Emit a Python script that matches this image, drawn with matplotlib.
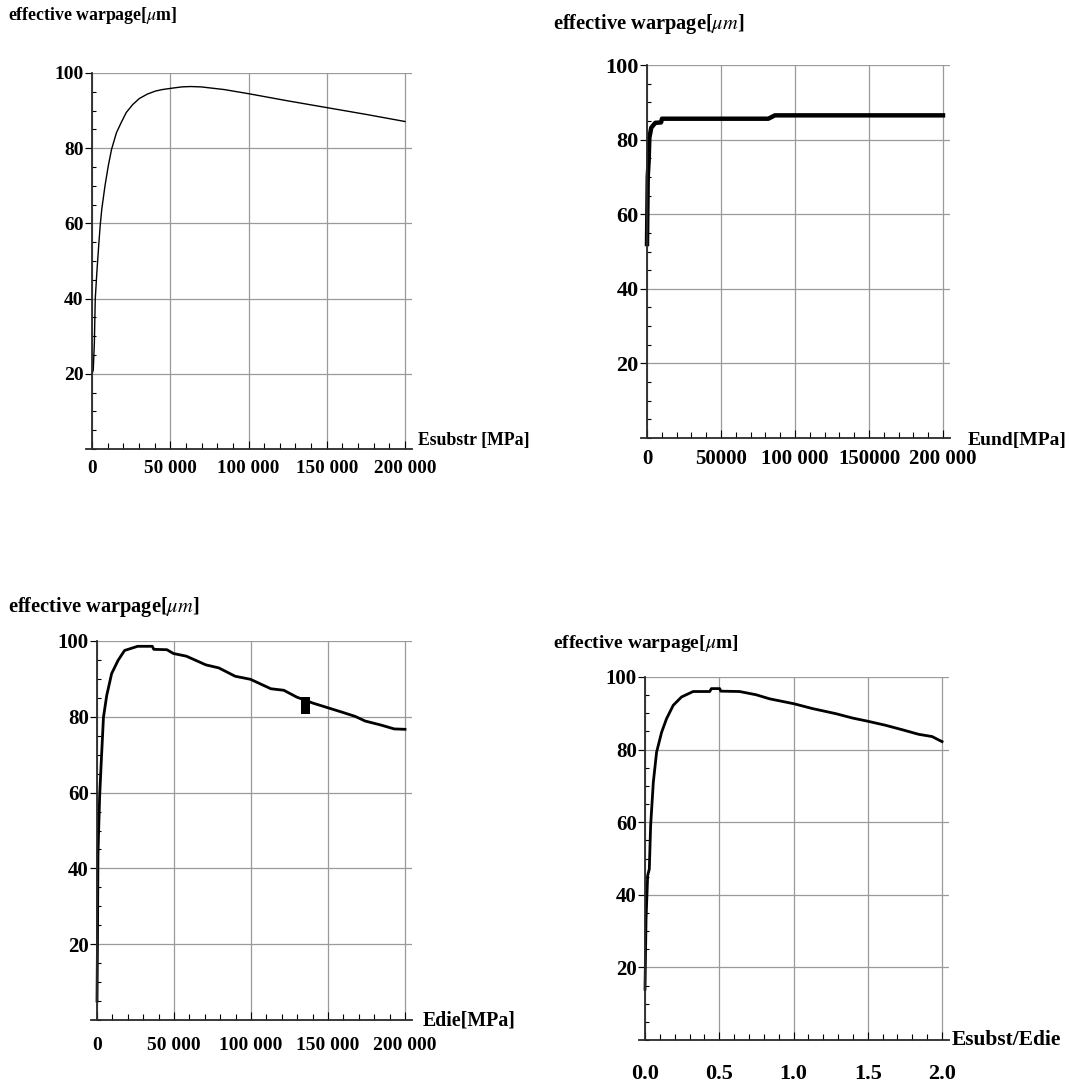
import numpy as np
import matplotlib
matplotlib.use("Agg")
import matplotlib.pyplot as plt
from matplotlib.ticker import MultipleLocator

plt.rcParams['font.family'] = ['Liberation Serif', 'DejaVu Serif']
plt.rcParams['mathtext.fontset'] = 'stix'

# --- values ---
# top left: warpage vs Esubstr
esubstr_x = [0, 800, 1500, 2080, 3100, 4200, 5200, 6250, 8300, 10400, 12500, 15600,
             18750, 21900, 26000, 30200, 35400, 40600, 45000, 50000, 57300, 63000,
             69800, 84400, 100000, 125000, 150000, 175000, 200000]
esubstr_y = [20, 21, 28, 39.9, 47, 53.6, 59.3, 63.8, 70, 75.3, 79.7, 84.1,
             86.9, 89.5, 91.6, 93.2, 94.4, 95.2, 95.6, 95.9, 96.3, 96.4,
             96.3, 95.6, 94.5, 92.6, 90.8, 89.0, 87.1]

# top right: warpage vs Eund
eund_x = [0, 500, 1100, 1600, 2900, 5600, 9500, 10100, 82000, 86400, 200000]
eund_y = [52, 70, 74.2, 80.5, 83.2, 84.5, 84.6, 85.6, 85.6, 86.5, 86.5]

# bottom left: warpage vs Edie
edie_x = [0, 300, 630, 1700, 2700, 4200, 6300, 9500, 13700, 17900, 26400, 35900,
          36900, 45400, 49600, 58000, 70700, 79100, 89700, 99600, 112900, 121300,
          129700, 140300, 149800, 159300, 167700, 174000, 184600, 193000, 200000]
edie_y = [5, 20, 43.8, 58.8, 67.6, 79.9, 85.6, 91.4, 94.9, 97.5, 98.6, 98.6,
          97.8, 97.7, 96.7, 96.0, 93.7, 92.9, 90.7, 89.9, 87.4, 87.0,
          85.2, 83.6, 82.4, 81.2, 80.1, 78.9, 77.8, 76.8, 76.7]
# black block drawn on the Edie curve
block_x = 135500
block_lo = 80.8
block_hi = 85.3

# bottom right: warpage vs Esubst/Edie
ratio_x = [0, 0.007, 0.018, 0.029, 0.038, 0.056, 0.078, 0.112, 0.145, 0.19, 0.246,
           0.324, 0.436, 0.447, 0.503, 0.51, 0.637, 0.749, 0.838, 1.006, 1.128,
           1.285, 1.397, 1.502, 1.62, 1.73, 1.844, 1.933, 2.0]
ratio_y = [14, 33.3, 45.3, 47.1, 59.1, 71.0, 79.3, 84.8, 88.5, 92.2, 94.5,
           96.0, 96.0, 96.8, 96.8, 96.1, 96.0, 95.1, 94.0, 92.6, 91.3,
           89.9, 88.7, 87.8, 86.7, 85.5, 84.2, 83.6, 82.2]

y_ticks = [20, 40, 60, 80, 100]
y_labels = ['20', '40', '60', '80', '100']
e_ticks = [0, 50000, 100000, 150000, 200000]
e_labels = ['0', '50 000', '100 000', '150 000', '200 000']
eund_labels = ['0', '50000', '100 000', '150000', '200 000']
ratio_ticks = [0, 0.5, 1.0, 1.5, 2.0]
ratio_labels = ['0.0', '0.5', '1.0', '1.5', '2.0']

W, H = 1068, 1088
fig = plt.figure(figsize=(W / 100, H / 100), dpi=100)


def place(ax, px0, px1, py0, py100, xmax):
    # put the axes so that x=0..xmax and y=0..100 land on the given pixels
    sx = (px1 - px0) / xmax
    xlo, xhi = -0.02 * xmax, 1.023 * xmax
    lpx = px0 + xlo * sx
    rpx = px0 + xhi * sx
    ax.set_position([lpx / W, 1 - py0 / H, (rpx - lpx) / W, (py0 - py100) / H])
    ax.set_xlim(xlo, xhi)
    ax.set_ylim(0, 100)


def style(ax, xticks, xlabels, xmax, fsx=14, fsy=14, padx=7):
    ax.spines['left'].set_position(('data', 0))
    ax.spines['top'].set_visible(False)
    ax.spines['right'].set_visible(False)
    for s in ('left', 'bottom'):
        ax.spines[s].set_color('#2a2a2a')
        ax.spines[s].set_linewidth(1.3)
    ax.set_xticks(xticks)
    ax.set_xticklabels(xlabels, fontsize=fsx, fontweight='bold')
    ax.set_yticks(y_ticks)
    ax.set_yticklabels(y_labels, fontsize=fsy, fontweight='bold')
    ax.xaxis.set_minor_locator(MultipleLocator(xmax / 20))
    ax.yaxis.set_minor_locator(MultipleLocator(5))
    ax.tick_params(axis='x', which='major', direction='in', length=6, pad=padx)
    ax.tick_params(axis='x', which='minor', direction='in', length=4, width=0.8)
    ax.tick_params(axis='y', which='major', direction='out', length=5, pad=1)
    ax.tick_params(axis='y', which='minor', direction='in', length=3, width=0.8)
    ax.grid(True, which='major', color='#9a9a9a', lw=0.9)
    ax.set_axisbelow(True)


ax1 = fig.add_axes([0, 0, 1, 1])
place(ax1, 92, 405, 449, 73, 200000)
style(ax1, e_ticks, e_labels, 200000, fsx=13.8, fsy=14, padx=8)
ax1.plot(esubstr_x, esubstr_y, color='black', lw=1.0)

ax2 = fig.add_axes([0, 0, 1, 1])
place(ax2, 647, 943, 438, 65, 200000)
style(ax2, e_ticks, eund_labels, 200000, fsx=15, fsy=16, padx=8)
ax2.plot(eund_x, eund_y, color='black', lw=3.2)

ax3 = fig.add_axes([0, 0, 1, 1])
place(ax3, 97, 405, 1020, 641, 200000)
style(ax3, e_ticks, e_labels, 200000, fsx=14, fsy=15, padx=12)
ax3.plot(edie_x, edie_y, color='black', lw=2.0)
ax3.bar([block_x], [block_hi - block_lo], bottom=[block_lo], width=5500,
        color='black', zorder=3)

ax4 = fig.add_axes([0, 0, 1, 1])
place(ax4, 645, 942, 1040, 677, 2.0)
style(ax4, ratio_ticks, ratio_labels, 2.0, fsx=16, fsy=15, padx=17)
ax4.plot(ratio_x, ratio_y, color='black', lw=2.0)

# axis captions, Mathematica style
fig.text(8 / W, 1 - 16 / H, 'effective warpage[$\\mu$m]', fontsize=12.8,
         fontweight='bold', va='center', ha='left')
fig.text(553 / W, 1 - 24 / H, 'effective warpage[$\\mu m$]', fontsize=14.7,
         fontweight='bold', va='center', ha='left')
fig.text(8 / W, 1 - 607 / H, 'effective warpage[$\\mu m$]', fontsize=14.7,
         fontweight='bold', va='center', ha='left')
fig.text(553 / W, 1 - 643 / H, 'effective warpage[$\\mu$m]', fontsize=14,
         fontweight='bold', va='center', ha='left')

fig.text(418 / W, 1 - 441 / H, 'Esubstr [MPa]', fontsize=12.8, fontweight='bold',
         va='center', ha='left')
fig.text(968 / W, 1 - 440 / H, 'Eund[MPa]', fontsize=14, fontweight='bold',
         va='center', ha='left')
fig.text(423 / W, 1 - 1020 / H, 'Edie[MPa]', fontsize=14.3, fontweight='bold',
         va='center', ha='left')
fig.text(952 / W, 1 - 1040 / H, 'Esubst/Edie', fontsize=15.5, fontweight='bold',
         va='center', ha='left')

fig.savefig('out.png', dpi=100, facecolor='white')
